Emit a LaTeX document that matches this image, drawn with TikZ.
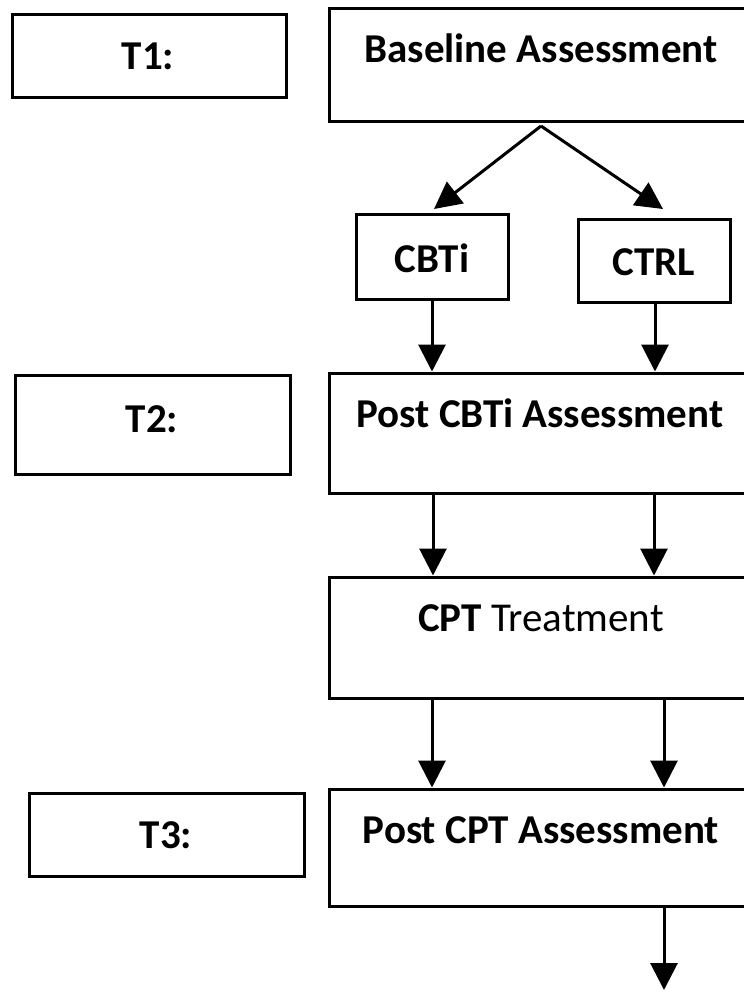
\documentclass[tikz,border=0pt]{standalone}
\usepackage{fontspec}
\setmainfont{Carlito}
\usetikzlibrary{arrows.meta}
\tikzset{
  box/.style={draw, line width=3pt, rectangle, inner sep=0pt},
  lbl/.style={font=\fontsize{41}{46}\selectfont\bfseries, inner sep=0pt, anchor=base},
  arr/.style={line width=3pt, -{Triangle[width=27pt,length=27pt]}},
}
\begin{document}
\begin{tikzpicture}[x=1pt,y=-1pt]
\useasboundingbox (0,0) rectangle (744,994);
\clip (0,0) rectangle (744,994);
% boxes
\node[box, minimum width=274pt, minimum height=83pt] (t1) at (149,55.5) {};
\node[box, minimum width=426pt, minimum height=113pt] (base) at (542,64.5) {};
\node[box, minimum width=152pt, minimum height=85pt] (cbti) at (432,256.5) {};
\node[box, minimum width=152pt, minimum height=83pt] (ctrl) at (654,260.5) {};
\node[box, minimum width=275pt, minimum height=99pt] (t2) at (152.5,424.5) {};
\node[box, minimum width=426pt, minimum height=120pt] (pcbti) at (542,433) {};
\node[box, minimum width=426pt, minimum height=121pt] (cpt) at (542,637.5) {};
\node[box, minimum width=275pt, minimum height=83pt] (t3) at (166.5,834.5) {};
\node[box, minimum width=426pt, minimum height=117pt] (pcpt) at (542,847.5) {};
% texts
\node[lbl] (t1txt) at (148,69) {T1:};
\node[lbl] (basetxt) at (541,62) {Baseline Assessment};
\node[lbl] (cbtitxt) at (432,272) {CBTi};
\node[lbl] (ctrltxt) at (654,275) {CTRL};
\node[lbl] (t2txt) at (152,432) {T2:};
\node[lbl] (pcbtitxt) at (540,427) {Post CBTi Assessment};
\node[lbl] (cpttxt) at (541,631) {CPT \mdseries Treatment};
\node[lbl] (t3txt) at (166,848) {T3:};
\node[lbl] (pcpttxt) at (541,843) {Post CPT Assessment};
% connectors
\coordinate (apex) at (541,126);
\coordinate (lt) at (434,209);
\coordinate (rt) at (663,209);
\coordinate (fin) at (664,990);
\draw[arr] (apex) -- (lt);
\draw[arr] (apex) -- (rt);
\draw[arr] (cbti.south) -- (cbti.south |- pcbti.north);
\draw[arr] (ctrl.south -| 655,0) -- (655,0 |- pcbti.north);
\draw[arr] (pcbti.south -| 433,0) -- (433,0 |- cpt.north);
\draw[arr] (pcbti.south -| 654,0) -- (654,0 |- cpt.north);
\draw[arr] (cpt.south -| 432,0) -- (432,0 |- pcpt.north);
\draw[arr] (cpt.south -| 664,0) -- (664,0 |- pcpt.north);
\draw[arr] (pcpt.south -| fin) -- (fin);
\end{tikzpicture}
\end{document}
